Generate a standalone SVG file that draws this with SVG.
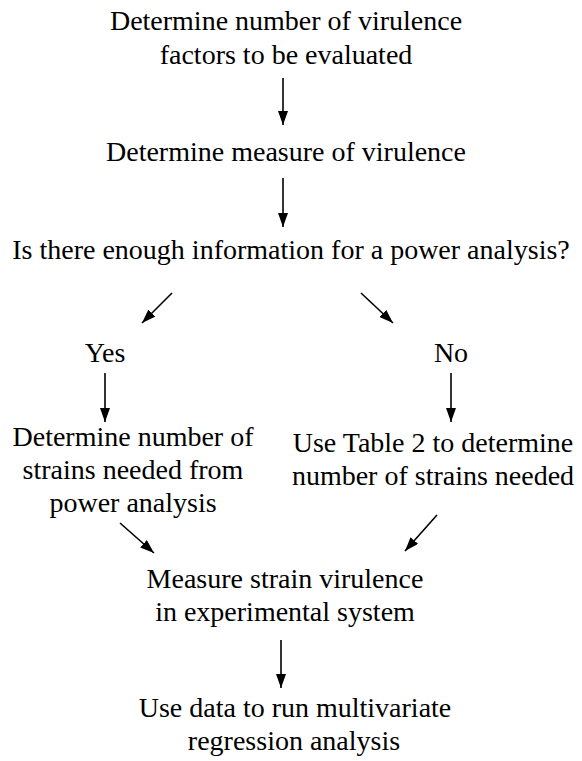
<svg xmlns="http://www.w3.org/2000/svg" width="582" height="761" viewBox="0 0 582 761">
<style>
text{font-size:28px;fill:#000;text-anchor:middle}
.c{stroke:#000;stroke-width:1.6;fill:none}
</style>
<defs>
<marker id="ah" viewBox="0 0 14 10" refX="14" refY="5" markerWidth="14" markerHeight="10" markerUnits="userSpaceOnUse" orient="auto">
<path d="M0,0 L14,5 L0,10 Z" fill="#000"/>
</marker>
</defs>
<rect width="582" height="761" fill="#fff"/>
<g font-family="Liberation Serif, DejaVu Serif, serif">
<g id="n1"><text x="286" y="30">Determine number of virulence</text><text x="286" y="64">factors to be evaluated</text></g>
<g id="n2"><text x="286" y="161">Determine measure of virulence</text></g>
<g id="n3"><text x="291" y="259">Is there enough information for a power analysis?</text></g>
<g id="n4"><text x="105" y="362">Yes</text></g>
<g id="n5"><text x="451" y="362">No</text></g>
<g id="n6"><text x="133" y="446">Determine number of</text><text x="133" y="479">strains needed from</text><text x="133" y="512">power analysis</text></g>
<g id="n7"><text x="433" y="452">Use Table 2 to determine</text><text x="433" y="485">number of strains needed</text></g>
<g id="n8"><text x="285" y="588">Measure strain virulence</text><text x="285" y="621">in experimental system</text></g>
<g id="n9"><text x="295" y="717">Use data to run multivariate</text><text x="294" y="750">regression analysis</text></g>
</g>
<g id="connectors" class="c">
<line x1="283" y1="78" x2="283" y2="125" marker-end="url(#ah)"/>
<line x1="283" y1="178" x2="283" y2="227" marker-end="url(#ah)"/>
<line x1="172" y1="293" x2="142" y2="323" marker-end="url(#ah)"/>
<line x1="361" y1="293" x2="393" y2="323" marker-end="url(#ah)"/>
<line x1="105" y1="373" x2="105" y2="422" marker-end="url(#ah)"/>
<line x1="451" y1="373" x2="451" y2="422" marker-end="url(#ah)"/>
<line x1="120" y1="523" x2="154" y2="553" marker-end="url(#ah)"/>
<line x1="437" y1="515" x2="405" y2="551" marker-end="url(#ah)"/>
<line x1="281" y1="640" x2="281" y2="688" marker-end="url(#ah)"/>
</g>
</svg>
